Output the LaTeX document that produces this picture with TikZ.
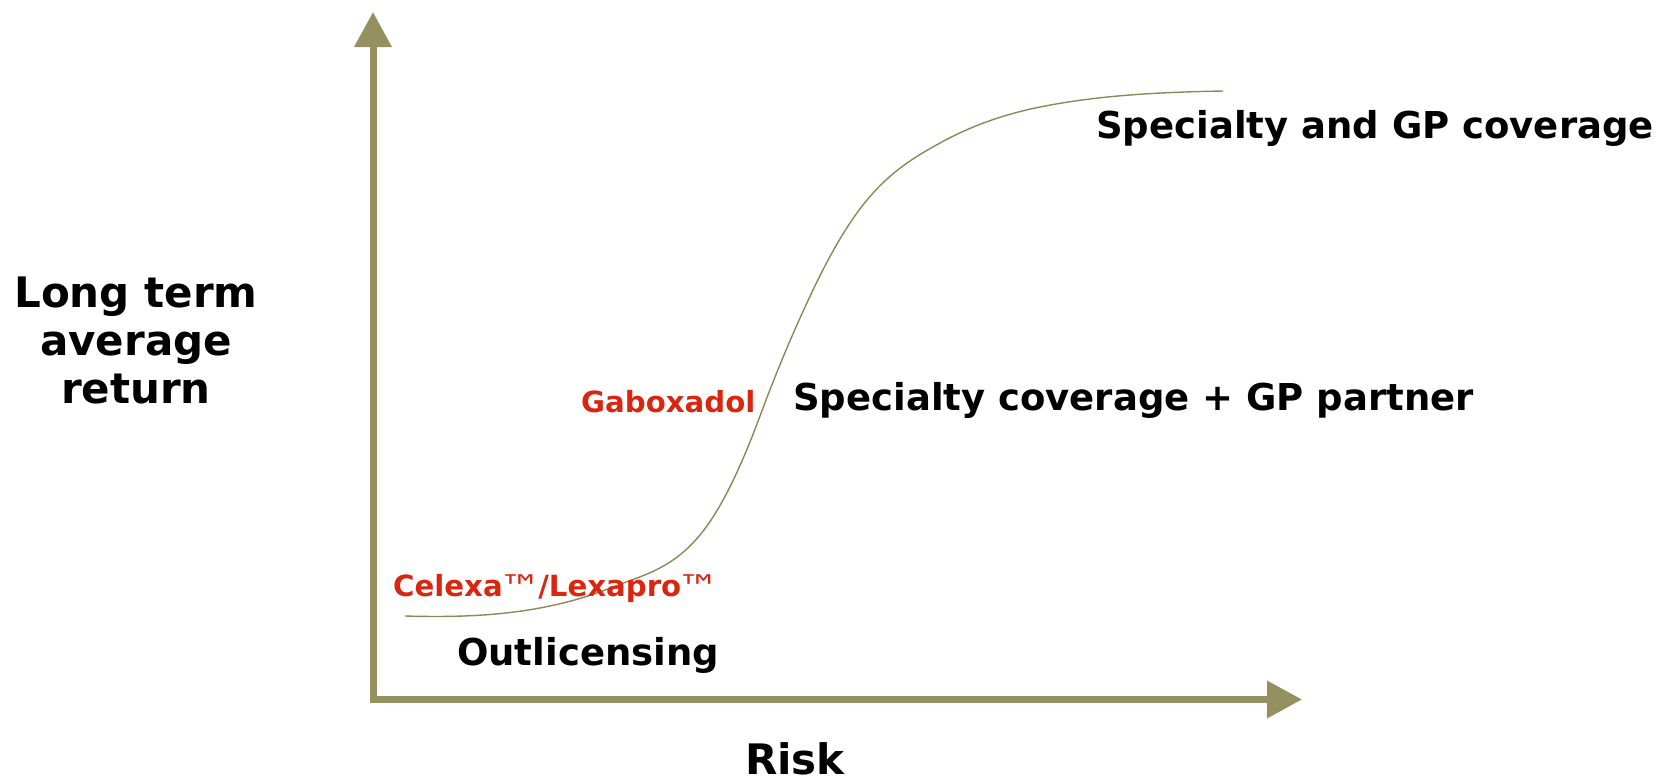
\documentclass[tikz,border=0pt]{standalone}
\usepackage{fontspec}
\setmainfont{DejaVu Sans}
\usetikzlibrary{arrows.meta}

\definecolor{axisolive}{RGB}{148,144,96}
\definecolor{curveolive}{RGB}{140,136,88}
\definecolor{prodred}{RGB}{218,38,16}

\tikzset{
  axis/.style={draw=axisolive, line width=7pt,
    arrows={Triangle[length=35pt,width=36pt,fill=axisolive]-Triangle[length=35pt,width=36pt,fill=axisolive]}},
  curve/.style={draw=curveolive, line width=1.4pt},
  biglabel/.style={font=\bfseries\fontsize{37}{44}\selectfont, inner sep=0pt, anchor=base west},
  axislabel/.style={font=\bfseries\fontsize{42}{48}\selectfont, inner sep=0pt},
  product/.style={font=\bfseries\fontsize{29.2}{34}\selectfont, text=prodred, inner sep=0pt, anchor=base west},
}
% light, wide trademark sign set level with the capitals
\newcommand{\tmark}{\kern-3.5pt\raisebox{-3.5pt}{\scalebox{1.25}[1]{\fontsize{34}{34}\selectfont\mdseries\texttrademark}}\kern-3.5pt}

\begin{document}
\begin{tikzpicture}[x=1pt, y=-1pt]
  \useasboundingbox (0,0) rectangle (1658,779);

  % axes
  \coordinate (ytip) at (373,12);
  \coordinate (origin) at (373,699.5);
  \coordinate (xtip) at (1302,699.5);
  \draw[axis] (ytip) -- (origin) -- (xtip);

  % return versus risk curve
  \draw[curve] (405,616)
    .. controls (474.3,618) and (543.7,614.7) .. (613,587)
    .. controls (642,575.4) and (671,569.8) .. (700,535)
    .. controls (720,511) and (740,470) .. (760,416)
    .. controls (777.7,368.3) and (795.3,327.1) .. (813,290)
    .. controls (831,252.2) and (849,221.6) .. (867,200)
    .. controls (891.3,170.8) and (915.7,156.4) .. (940,143)
    .. controls (973.3,124.7) and (1006.7,113.7) .. (1040,107)
    .. controls (1101,94.8) and (1162,92.2) .. (1223,91);

  % axis titles
  \node[axislabel, align=center, anchor=base] (ylab) at (136,403)
    {Long term\\average\\return};
  \node[axislabel, anchor=base] (xlab) at (795,774) {Risk};

  % strategy labels
  \node[biglabel] (top) at (1096,138) {Specialty and GP coverage};
  \node[biglabel] (mid) at (793,410) {Specialty coverage + GP partner};
  \node[biglabel] (low) at (457,665) {Outlicensing};

  % product labels
  \node[product] (gabox) at (581,412) {Gaboxadol};
  \node[product] (celexa) at (393,596) {Celexa\tmark/Lexapro\tmark};
\end{tikzpicture}
\end{document}
